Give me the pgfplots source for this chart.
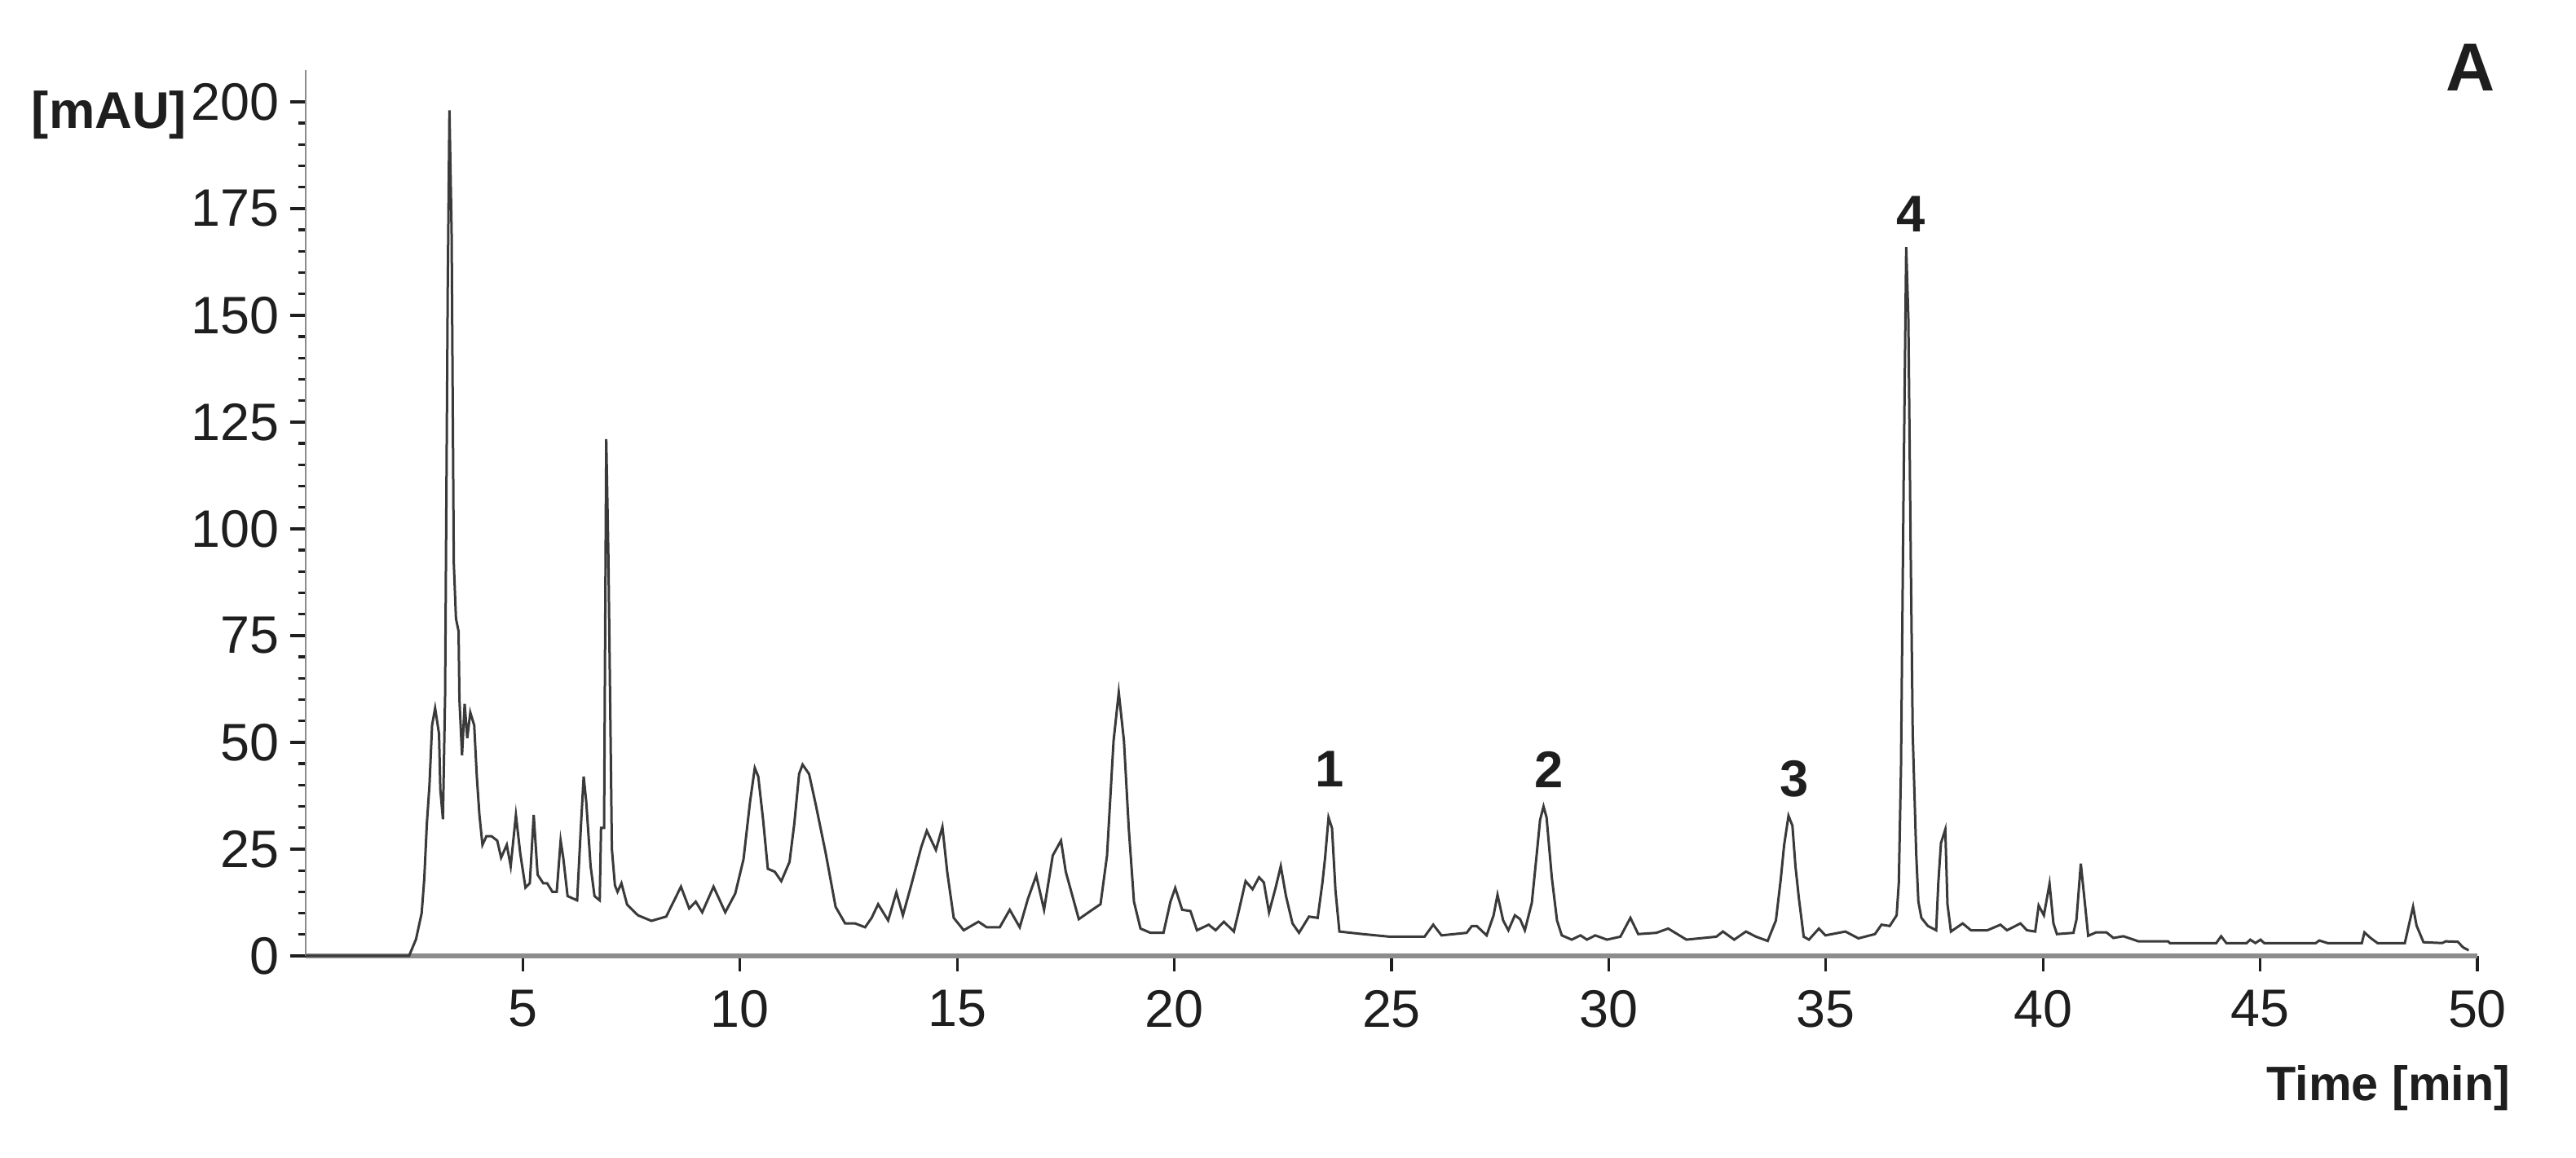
\documentclass[border=0pt]{standalone}
\usepackage{fontspec}
\setmainfont{Liberation Sans}
\usepackage{pgfplots}
\pgfplotsset{compat=1.18}

\definecolor{trace}{HTML}{3A3A3A}
\definecolor{ink}{HTML}{1E1E1E}
\definecolor{axgray}{HTML}{8C8C8C}

\pgfplotstableread{
t v
0 0
2.38 0
2.54 3.9
2.67 10
2.73 18
2.79 31
2.85 40
2.91 54
2.98 58
3.07 52
3.10 39
3.16 32
3.21 61
3.27 156
3.31 198
3.36 169
3.41 92
3.46 79
3.52 76
3.54 60
3.60 47
3.66 59
3.72 51
3.79 57
3.88 54
3.94 42
4.00 33
4.07 26
4.16 28
4.28 28
4.41 27
4.50 23
4.63 26
4.72 21
4.84 33
4.94 24
5.06 16
5.16 17
5.25 33
5.34 19
5.47 17
5.56 17
5.68 15
5.78 15
5.87 27
5.93 23
6.03 14
6.25 13
6.34 31
6.40 42
6.46 36
6.56 21
6.65 14
6.77 13
6.80 30
6.87 30
6.92 121
6.97 93
7.02 51
7.05 25
7.12 16.5
7.18 15
7.27 17
7.40 12
7.65 9.5
7.96 8.2
8.30 9.2
8.64 16.2
8.83 11.1
8.98 12.7
9.13 10.2
9.39 16.2
9.66 10.2
9.89 14.6
10.08 22.6
10.23 36
10.34 44
10.42 42
10.53 32
10.64 20.4
10.80 19.7
10.95 17.5
11.14 22
11.25 31
11.36 42.6
11.44 44.8
11.59 42.6
11.74 35.6
11.97 24.2
12.20 11.5
12.42 7.6
12.65 7.6
12.88 6.7
13.03 8.9
13.18 12.1
13.41 8.3
13.60 14.9
13.75 9.5
13.94 16.5
14.17 25.4
14.30 29.3
14.51 24.8
14.66 30.2
14.77 19.7
14.92 8.9
15.15 6
15.49 8
15.68 6.7
15.98 6.7
16.21 10.8
16.44 6.7
16.63 13.4
16.82 18.8
17.00 10.8
17.20 23.5
17.39 27
17.50 19.7
17.80 8.6
18.11 10.8
18.30 12.1
18.45 23.5
18.60 50.3
18.72 61.7
18.84 50.3
18.95 29.9
19.07 12.7
19.22 6.4
19.45 5.4
19.75 5.4
19.91 12.7
20.02 15.9
20.18 10.8
20.37 10.5
20.52 6
20.79 7.3
20.95 6
21.14 8
21.37 5.7
21.49 10.8
21.64 17.5
21.80 15.6
21.95 18.4
22.06 17.2
22.18 10.2
22.33 15.9
22.45 21
22.57 14
22.72 7.6
22.87 5.4
23.10 9.2
23.30 8.9
23.41 17.2
23.47 22.9
23.55 32.4
23.63 29.9
23.71 15.3
23.80 5.7
24.34 5.1
24.95 4.5
25.76 4.5
25.96 7.3
26.15 4.8
26.73 5.4
26.85 7
26.96 7
27.19 4.8
27.35 9.5
27.44 14.3
27.57 8.3
27.69 6
27.84 9.5
27.96 8.6
28.07 6
28.23 12.4
28.34 23.5
28.42 31.8
28.50 35
28.57 32.4
28.69 18.4
28.81 8.3
28.92 4.8
29.15 3.8
29.35 4.8
29.50 3.8
29.69 4.8
29.96 3.8
30.27 4.5
30.50 8.9
30.68 5.1
31.10 5.4
31.37 6.4
31.79 3.8
32.48 4.5
32.63 5.7
32.89 3.8
33.16 5.7
33.39 4.5
33.66 3.5
33.85 8.3
33.96 17.8
34.04 26
34.14 32.8
34.23 30.5
34.30 21
34.38 13.4
34.49 4.5
34.61 3.8
34.84 6.4
34.99 4.8
35.45 5.7
35.75 4.1
36.13 5.1
36.28 7.3
36.47 7
36.63 9.5
36.68 17.2
36.73 44
36.79 110
36.85 166
36.90 149
36.95 98
37.00 52
37.08 24
37.13 12.7
37.20 8.9
37.35 7
37.54 6
37.59 17.2
37.65 26.4
37.75 29.6
37.80 12.1
37.88 5.7
38.15 7.6
38.34 6
38.72 6
39.02 7.3
39.17 6
39.48 7.6
39.63 6
39.82 5.7
39.90 11.8
40.02 9.5
40.15 16.9
40.24 7.6
40.32 5.1
40.70 5.4
40.77 8.5
40.87 21.6
40.96 12.7
41.04 4.7
41.22 5.5
41.46 5.5
41.62 4.2
41.85 4.6
42.20 3.4
42.88 3.4
42.92 3
43.99 3
44.10 4.6
44.22 3
44.69 3
44.77 3.8
44.89 3
45.01 3.8
45.09 3
46.28 3
46.36 3.6
46.55 3
47.34 3
47.40 5.5
47.54 4.2
47.70 3
48.33 3
48.45 8.4
48.52 11.5
48.60 7.1
48.76 3.2
49.19 3
49.27 3.4
49.55 3.3
49.67 2
49.80 1.3
}\chrom

\begin{document}
\begin{tikzpicture}
% fixed page: 3160x1421 px at 0.15pt per px, axis origin at (0,0)
\path[use as bounding box] (-56.25pt,-37.2pt) rectangle (417.75pt,175.95pt);
\begin{axis}[
  at={(0,0)}, anchor=south west,
  scale only axis,
  width=399.6pt, height=163.1pt,
  xmin=0, xmax=50, ymin=0, ymax=207.5,
  axis x line*=bottom, axis y line*=left,
  x axis line style={draw=axgray, line width=0.9pt},
  y axis line style={draw=axgray, line width=0.3pt},
  xtick={5,10,...,50}, ytick={0,25,...,200},
  minor y tick num=4,
  tick align=outside,
  major tick length=2.8pt, minor tick length=1.4pt,
  tick style={ink, line width=0.5pt},
  /pgf/number format/assume math mode=true,
  ticklabel style={font=\fontsize{9.7}{11}\selectfont, text=ink},
  yticklabel style={xshift=1.4pt},
  xlabel={Time [min]},
  ylabel={[mAU]},
  every axis x label/.style={at={(axis description cs:1.024,-0.149)}, anchor=east,
    font=\fontsize{8.9}{10}\selectfont\bfseries, text=ink},
  every axis y label/.style={at={(axis description cs:-0.046,0.949)}, anchor=east,
    font=\fontsize{9.5}{11}\selectfont\bfseries, text=ink},
  clip=false,
]
\addplot[trace, line width=0.45pt] table[x=t, y=v] {\chrom};
\node[font=\fontsize{9.5}{11}\selectfont\bfseries, text=ink] at (axis cs:23.58,43.7) {1};
\node[font=\fontsize{9.5}{11}\selectfont\bfseries, text=ink] at (axis cs:28.62,43.7) {2};
\node[font=\fontsize{9.5}{11}\selectfont\bfseries, text=ink] at (axis cs:34.28,41.5) {3};
\node[font=\fontsize{9.5}{11}\selectfont\bfseries, text=ink] at (axis cs:36.95,173.8) {4};
\node[font=\fontsize{12.5}{14}\selectfont\bfseries, text=ink] at (axis description cs:0.997,1.003) {A};
\end{axis}
\end{tikzpicture}
\end{document}
